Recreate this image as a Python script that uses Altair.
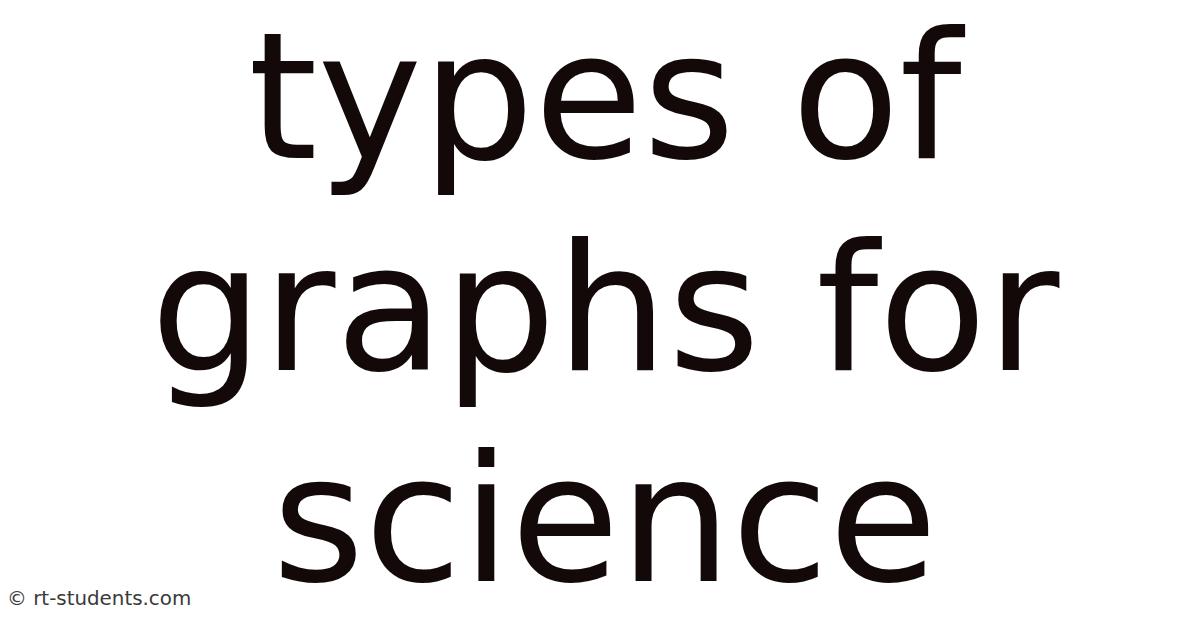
import altair as alt
import pandas as pd

# title lines, top to bottom
lines = ["types of", "graphs for", "science"]
line_no = [0, 1, 2]
credit = ["© rt-students.com"]

df = pd.DataFrame({"text": lines, "line": line_no})
credit_df = pd.DataFrame({"text": credit})

W, H = 1192, 620

title = alt.Chart(df).mark_text(
    font="DejaVu Sans",
    fontSize=178,
    color="#130909",
    align="center",
    baseline="alphabetic",
).encode(
    x=alt.value(601),
    y=alt.Y("line:Q", scale=alt.Scale(domain=[-0.7, 2.211], reverse=True, nice=False, zero=False), axis=None),
    text="text:N",
)

footer = alt.Chart(credit_df).mark_text(
    font="DejaVu Sans",
    fontSize=20,
    color="#3a3a3a",
    align="left",
    baseline="alphabetic",
).encode(
    x=alt.value(-1),
    y=alt.value(599),
    text="text:N",
)

chart = alt.layer(title, footer).properties(
    width=W,
    height=H,
    padding=0,
    autosize=alt.AutoSizeParams(type="none"),
    background="white",
).configure_view(strokeWidth=0)

chart.save("out.html", embed_options={"renderer": "svg", "actions": False})
